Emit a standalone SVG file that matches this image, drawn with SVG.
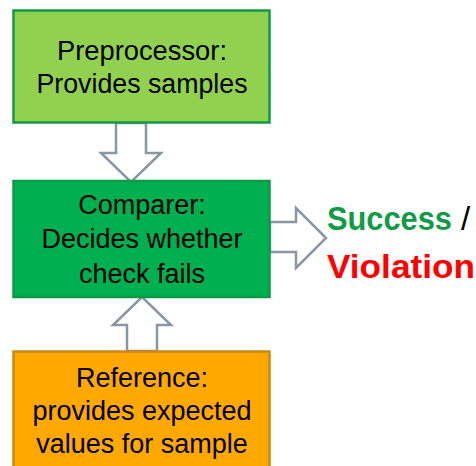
<svg xmlns="http://www.w3.org/2000/svg" width="476" height="466" viewBox="0 0 476 466">
  <style>
    .box { stroke-width: 2.5; }
    .lbl { font-family: "Liberation Sans", Arial, sans-serif; font-size: 27px; fill: #000; text-anchor: middle; }
    .arrow { fill: #ffffff; stroke: #8797a3; stroke-width: 2.5; stroke-linejoin: miter; }
    .out { font-family: "Liberation Sans", Arial, sans-serif; font-size: 33px; font-weight: bold; }
  </style>
  <rect width="476" height="466" fill="#ffffff"/>

  <!-- block arrows between the stages -->
  <g id="connectors">
    <polygon class="arrow" points="116,123 146,123 146,153 161,153 131,182 101,153 116,153"/>
    <polygon class="arrow" points="127,351 157,351 157,325 171,325 142,297 113,325 127,325"/>
    <polygon class="arrow" points="270,222 296,222 296,208 326,238 296,268 296,252 270,252"/>
  </g>

  <g id="preprocessor">
    <rect class="box" x="13.5" y="10.5" width="256" height="112" fill="#92d050" stroke="#0f9a48"/>
    <text class="lbl" x="142" y="60" textLength="170" lengthAdjust="spacingAndGlyphs">Preprocessor:</text>
    <text class="lbl" x="142" y="93" textLength="211" lengthAdjust="spacingAndGlyphs">Provides samples</text>
  </g>

  <g id="comparer">
    <rect class="box" x="13.5" y="181" width="256" height="116" fill="#00b050" stroke="#0a9a45"/>
    <text class="lbl" x="142" y="214">Comparer:</text>
    <text class="lbl" x="142" y="248">Decides whether</text>
    <text class="lbl" x="142" y="283">check fails</text>
  </g>

  <g id="reference">
    <rect class="box" x="13.5" y="351.5" width="256" height="130" fill="#ffa800" stroke="#c98a14"/>
    <text class="lbl" x="142" y="387">Reference:</text>
    <text class="lbl" x="142" y="420">provides expected</text>
    <text class="lbl" x="142" y="453">values for sample</text>
  </g>

  <g id="result">
    <text class="out" x="327" y="230"><tspan fill="#119b47" textLength="125" lengthAdjust="spacingAndGlyphs">Success</tspan><tspan fill="#000000" font-weight="normal" dx="9">/</tspan></text>
    <text class="out" x="327" y="278" fill="#ff0000" textLength="148" lengthAdjust="spacingAndGlyphs">Violation</text>
  </g>
</svg>
